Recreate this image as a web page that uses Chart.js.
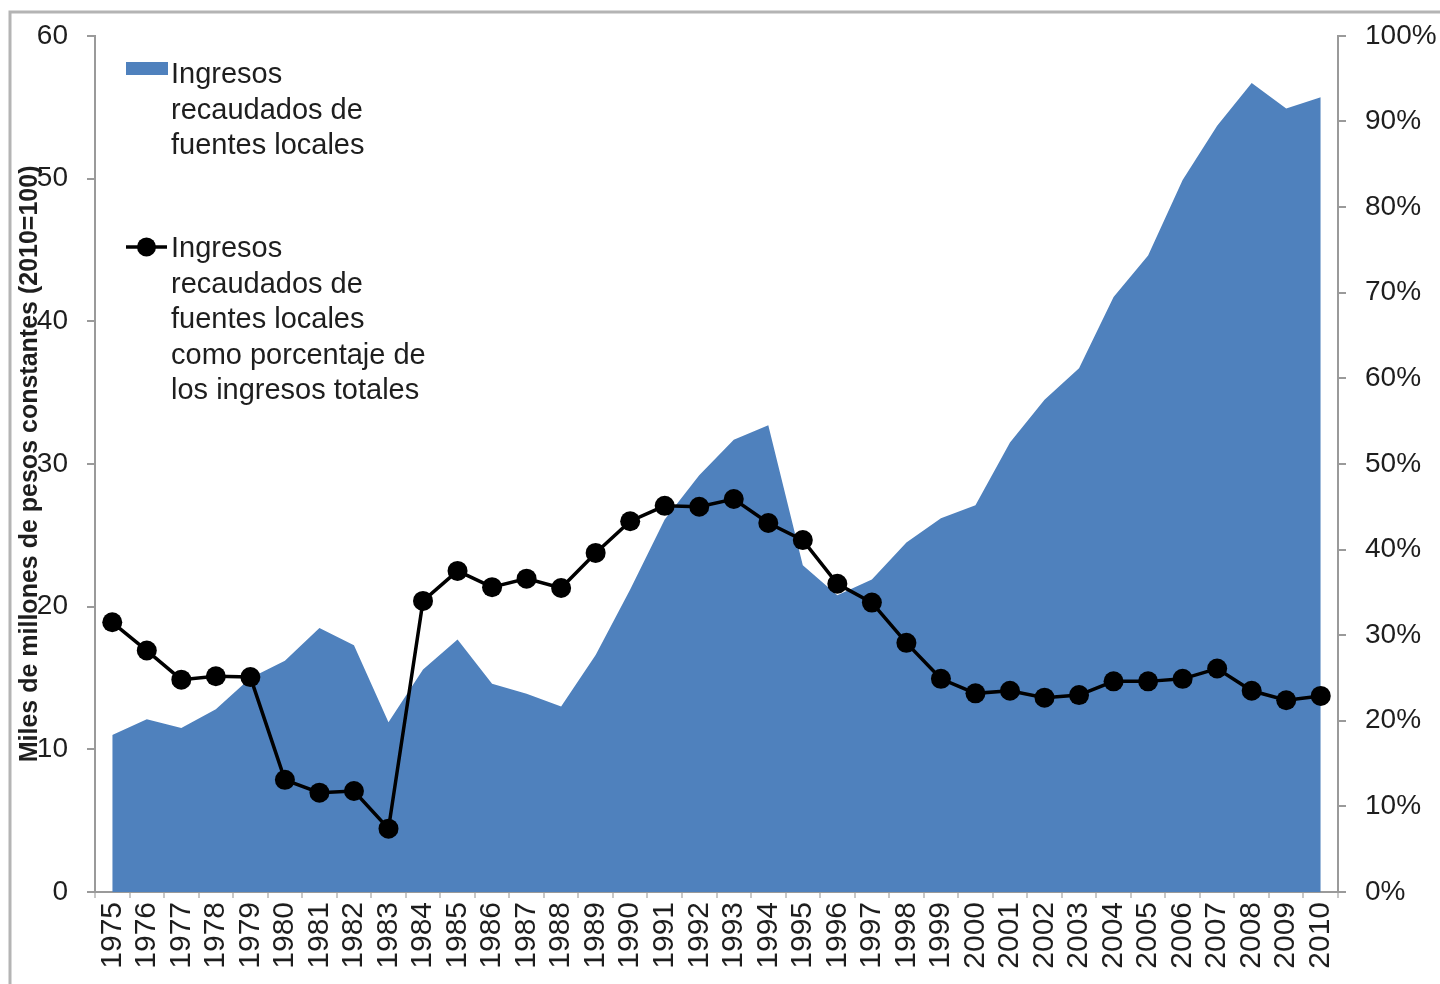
<!DOCTYPE html>
<html>
<head>
<meta charset="utf-8">
<script src="https://cdn.jsdelivr.net/npm/chart.js@4.4.1/dist/chart.umd.min.js"></script>
<style>
  body { margin: 0; background: white; }
  #wrap { width: 1440px; height: 984px; position: relative; }
</style>
</head>
<body>
<div id="wrap"><canvas id="chart"></canvas></div>
<script>
// years on the x axis
const years = ['1975','1976','1977','1978','1979','1980','1981','1982','1983','1984','1985','1986',
  '1987','1988','1989','1990','1991','1992','1993','1994','1995','1996','1997','1998','1999','2000',
  '2001','2002','2003','2004','2005','2006','2007','2008','2009','2010'];

// Ingresos recaudados de fuentes locales (miles de millones, 2010=100)
const ingresosLocales = [11.0, 12.1, 11.5, 12.8, 15.0, 16.2, 18.5, 17.3, 11.9, 15.6, 17.7, 14.6,
  13.9, 13.0, 16.6, 21.2, 26.1, 29.2, 31.7, 32.7, 22.9, 20.8, 21.9, 24.5, 26.2, 27.1,
  31.5, 34.5, 36.7, 41.7, 44.6, 49.9, 53.7, 56.7, 54.9, 55.7];

// como porcentaje de los ingresos totales (%)
const porcentajeLocal = [31.5, 28.2, 24.8, 25.2, 25.1, 13.1, 11.6, 11.8, 7.4, 34.0, 37.5, 35.6,
  36.6, 35.5, 39.6, 43.3, 45.1, 45.0, 45.9, 43.1, 41.1, 36.0, 33.8, 29.1, 24.9, 23.2,
  23.5, 22.7, 23.0, 24.6, 24.6, 24.9, 26.1, 23.5, 22.4, 22.9];

const leftTicks = [0, 60, 10];   // min, max, step
const rightTicks = [0, 100, 10];

const legendArea = ['Ingresos', 'recaudados de', 'fuentes locales'];
const legendLine = ['Ingresos', 'recaudados de', 'fuentes locales', 'como porcentaje de', 'los ingresos totales'];

const blue = '#4F81BD';
const axisGray = '#9a9a9a';
const textCol = '#1e1e1e';

// draws the legend block inside the plot area and the frame round the picture
const extras = {
  id: 'extras',
  beforeDraw(chart) {
    const c = chart.ctx;
    c.save();
    c.strokeStyle = '#b4b4b4';
    c.lineWidth = 3;
    c.beginPath();
    c.moveTo(10, 984);
    c.lineTo(10, 12);
    c.lineTo(1440, 12);
    c.stroke();
    c.restore();
  },
  afterDraw(chart) {
    const c = chart.ctx;
    c.save();
    c.font = '29px "Liberation Sans", Arial, sans-serif';
    c.textBaseline = 'alphabetic';
    // area entry
    c.fillStyle = blue;
    c.fillRect(126, 62, 42, 13);
    c.fillStyle = textCol;
    legendArea.forEach((t, i) => c.fillText(t, 171, 83 + i * 35.5));
    // line entry
    c.strokeStyle = '#000';
    c.lineWidth = 3.5;
    c.beginPath();
    c.moveTo(126, 247);
    c.lineTo(167, 247);
    c.stroke();
    c.fillStyle = '#000';
    c.beginPath();
    c.arc(146.5, 247, 9.5, 0, Math.PI * 2);
    c.fill();
    c.fillStyle = textCol;
    legendLine.forEach((t, i) => c.fillText(t, 171, 257 + i * 35.5));
    c.restore();
  }
};

const tickFont = { family: '"Liberation Sans", Arial, sans-serif', size: 28 };

new Chart(document.getElementById('chart'), {
  type: 'line',
  data: {
    labels: years,
    datasets: [
      {
        label: 'Ingresos recaudados de fuentes locales como porcentaje de los ingresos totales',
        data: porcentajeLocal,
        yAxisID: 'y1',
        borderColor: '#000',
        backgroundColor: '#000',
        borderWidth: 3.5,
        pointRadius: 10,
        pointBackgroundColor: '#000',
        pointBorderWidth: 0,
        fill: false,
        tension: 0,
        order: 0
      },
      {
        label: 'Ingresos recaudados de fuentes locales',
        data: ingresosLocales,
        yAxisID: 'y',
        borderWidth: 0,
        borderColor: blue,
        backgroundColor: blue,
        pointRadius: 0,
        fill: 'origin',
        tension: 0,
        order: 1
      }
    ]
  },
  options: {
    responsive: true,
    maintainAspectRatio: false,
    animation: false,
    layout: { padding: { top: 34, left: 0, right: 0, bottom: 0 } },
    plugins: {
      legend: { display: false },
      tooltip: { enabled: false }
    },
    scales: {
      x: {
        offset: true,
        afterFit: (s) => { s.height = 92; },
        grid: { display: true, drawOnChartArea: false, offset: true, tickLength: 6, color: '#c8c8c8', lineWidth: 2 },
        border: { display: true, color: axisGray, width: 2 },
        ticks: { autoSkip: false, maxRotation: 90, minRotation: 90, padding: 4, color: textCol,
          font: { family: '"Liberation Sans", Arial, sans-serif', size: 30 } }
      },
      y: {
        position: 'left',
        min: leftTicks[0],
        max: leftTicks[1],
        afterFit: (s) => { s.width = 95; },
        grid: { display: true, drawOnChartArea: false, tickLength: 8, color: axisGray, lineWidth: 2 },
        border: { display: true, color: axisGray, width: 2 },
        ticks: { stepSize: leftTicks[2], padding: 19, color: textCol, font: tickFont },
        title: {
          display: true,
          text: 'Miles de millones de pesos constantes (2010=100)',
          color: textCol,
          font: { family: '"Liberation Sans", Arial, sans-serif', size: 25, weight: 'bold' },
          padding: { top: 15, bottom: 0 }
        }
      },
      y1: {
        position: 'right',
        min: rightTicks[0],
        max: rightTicks[1],
        afterFit: (s) => { s.width = 102; },
        grid: { display: true, drawOnChartArea: false, tickLength: 8, color: axisGray, lineWidth: 2 },
        border: { display: true, color: axisGray, width: 2 },
        ticks: { stepSize: rightTicks[2], padding: 19, color: textCol, font: tickFont, callback: (v) => v + '%' }
      }
    }
  },
  plugins: [extras]
});
</script>
</body>
</html>
